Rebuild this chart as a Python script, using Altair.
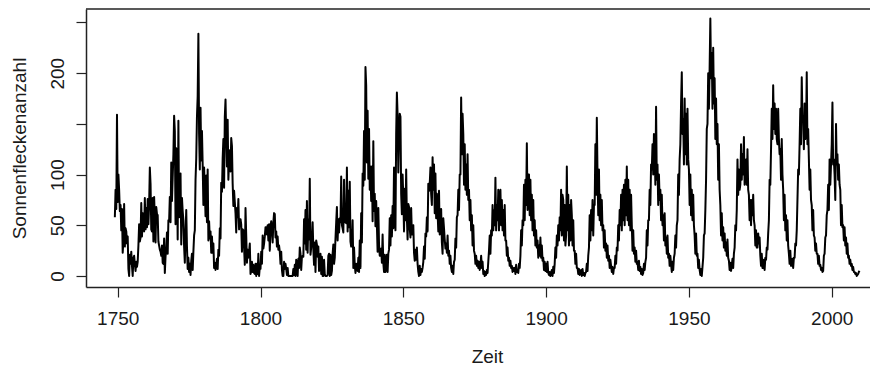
import altair as alt
import pandas as pd

start_year = 1749
s1749_1799 = [
    58, 85, 66, 159,   73, 100, 85, 64,   70, 45, 66, 23,   35, 71, 29, 47,   44, 32, 39, 7,
    0, 21, 12, 24,     10, 0, 18, 20,     12, 5, 14, 9,     14, 30, 51, 34,   38, 72, 39, 62,
    48, 44, 77, 46,    67, 48, 76, 51,    70, 107, 91, 46,  44, 77, 34, 78,   57, 33, 68, 61,
    60, 34, 30, 26,    24, 20, 30, 13,    12, 37, 3, 19,    27, 43, 22, 55,   54, 78, 53, 112,
    74, 97, 120, 158,  143, 51, 126, 102, 36, 153, 58, 96,  101, 31, 77, 64,  55, 29, 13, 43,
    65, 29, 7, 18,     4, 12, 1, 15,      22, 6, 24, 40,    45, 95, 116, 157, 177, 239, 140, 105,
    166, 114, 143, 110, 70, 107, 86, 59,  99, 53, 105, 35,  54, 37, 44, 23,   39, 23, 32, 8,
    13, 6, 10, 17,     7, 26, 20, 47,     37, 92, 83, 116,  135, 87, 157, 174, 138, 108, 154, 95,
    114, 124, 103, 136, 128, 91, 69, 84,  73, 62, 43, 67,   58, 76, 46, 56,   56, 51, 24, 46,
    45, 28, 11, 67,    40, 13, 26, 18,    24, 32, 2, 5,     14, 4, 11, 3,     2, 12, 0, 12,
    2, 22, 0, 9,
]
s1800_1849 = [
    7, 24, 12, 40,     27, 32, 39, 48,    48, 41, 50, 35,   51, 25, 48, 54,   45, 33, 53, 62,
    61, 38, 44, 29,    39, 26, 30, 24,    12, 24, 6, 0,     0, 14, 7, 12,     7, 1, 8, 0,
    0, 0, 0, 0,        0, 0, 7, 1,        11, 0, 16, 10,    0, 17, 8, 28,     22, 6, 19, 20,
    19, 56, 32, 65,    26, 74, 23, 56,    36, 96, 21, 28,   35, 53, 26, 11,   33, 4, 35, 31,
    19, 29, 5, 10,     22, 2, 19, 0,      0, 16, 2, 0,      0, 0, 1, 20,      22, 0, 21, 1,
    5, 22, 31, 12,     18, 37, 53, 68,    35, 56, 43, 57,   53, 98, 50, 47,   43, 95, 53, 68,
    52, 107, 44, 84,   48, 93, 34, 29,    31, 55, 8, 28,    11, 3, 12, 6,     5, 18, 4, 35,
    8, 62, 33, 101,    89, 143, 95, 206,  188, 112, 163, 96, 145, 85, 108, 74, 108, 54, 133, 64,
    81, 49, 74, 50,    24, 67, 31, 20,    20, 27, 13, 41,   13, 4, 21, 4,     9, 21, 4, 22,
    26, 57, 30, 60,    39, 69, 47, 107,   63, 45, 140, 181, 159, 102, 139, 160, 157, 81, 61, 100,
]
s1850_1899 = [
    78, 44, 86, 55,    105, 57, 36, 71,   68, 47, 38, 67,   41, 48, 50, 23,   15, 26, 16, 28,
    12, 4, 0, 10,      1, 7, 4, 8,        14, 29, 17, 42,   39, 58, 44, 91,   84, 91, 107, 81,
    70, 117, 85, 110,  62, 101, 57, 81,   63, 44, 84, 41,   48, 66, 33, 22,   57, 47, 36, 27,
    32, 23, 40, 20,    25, 12, 20, 8,     4, 10, 2, 14,     16, 37, 28, 58,   60, 85, 65, 100,
    100, 176, 120, 160, 140, 90, 130, 85, 110, 80, 120, 75, 85, 55, 75, 45,   60, 30, 50, 25,
    22, 12, 20, 10,    15, 8, 14, 6,      10, 20, 8, 14,    2, 5, 0, 4,       1, 6, 3, 14,
    25, 40, 22, 45,    40, 70, 45, 65,    50, 97, 45, 70,   55, 85, 45, 75,   85, 50, 75, 45,
    65, 40, 70, 35,    35, 20, 28, 15,    18, 10, 15, 8,    10, 4, 8, 5,      8, 2, 11, 4,
    5, 3, 12, 8,       20, 45, 30, 55,    50, 90, 55, 95,   70, 131, 65, 100, 100, 60, 95, 55,
    80, 45, 75, 40,    55, 30, 45, 28,    35, 18, 30, 20,   38, 18, 30, 15,   18, 6, 14, 5,
]
s1900_1949 = [
    12, 4, 14, 3,      1, 4, 0, 3,        6, 0, 9, 3,       12, 28, 18, 40,   30, 50, 35, 58,
    45, 85, 40, 80,    75, 35, 70, 30,    40, 108, 45, 80,  30, 70, 35, 75,   60, 30, 55, 25,
    25, 12, 22, 8,     8, 2, 7, 1,        2, 6, 0, 7,       1, 3, 0, 3,       4, 12, 5, 20,
    28, 60, 35, 65,    45, 75, 40, 70,    70, 130, 80, 156, 100, 60, 105, 55, 80, 50, 75, 45,
    50, 28, 45, 25,    32, 18, 30, 15,    20, 8, 16, 10,    4, 9, 2, 8,       8, 20, 12, 28,
    25, 50, 35, 65,    50, 80, 45, 85,    55, 90, 50, 95,   60, 108, 55, 95,  50, 85, 45, 80,
    50, 25, 45, 22,    28, 14, 25, 12,    14, 6, 15, 5,     9, 2, 7, 1,       3, 12, 6, 14,
    18, 45, 30, 55,    55, 85, 70, 110,   105, 130, 100, 140, 130, 90, 167, 95, 110, 70, 100, 75,
    85, 55, 80, 50,    60, 35, 62, 30,    38, 22, 40, 18,   22, 10, 20, 12,   4, 14, 6, 18,
    22, 40, 28, 50,    55, 100, 80, 115,  130, 170, 201, 140, 155, 110, 175, 120, 160, 110, 165, 115,
]
s1950_2009 = [
    105, 70, 100, 60,  85, 55, 80, 50,    40, 22, 42, 20,   22, 8, 16, 6,     1, 7, 0, 9,
    18, 40, 42, 65,    95, 145, 150, 200, 165, 205, 254, 195, 220, 165, 225, 170, 195, 135, 175, 130,
    150, 95, 130, 85,  70, 40, 62, 35,    48, 28, 42, 25,   33, 20, 36, 18,   15, 6, 13, 5,
    10, 17, 8, 22,     28, 50, 45, 65,    115, 80, 105, 85, 90, 130, 95, 120, 100, 137, 90, 110,
    115, 90, 125, 85,  80, 55, 75, 50,    75, 60, 80, 55,   50, 30, 45, 28,   28, 42, 32, 38,
    20, 10, 22, 8,     8, 16, 6, 18,      16, 28, 26, 42,   55, 95, 90, 125,  165, 135, 188, 145,
    170, 140, 165, 135, 130, 165, 135, 120, 125, 95, 135, 100, 85, 55, 80, 45, 60, 35, 55, 30,
    22, 12, 25, 10,    10, 17, 8, 18,     18, 32, 30, 45,   75, 105, 100, 130, 165, 130, 196, 155,
    155, 125, 170, 135, 140, 201, 130, 145, 115, 85, 105, 75, 70, 45, 65, 40,  38, 25, 32, 22,
    22, 12, 20, 10,    11, 6, 8, 4,       5, 20, 22, 38,    40, 60, 65, 90,   65, 115, 90, 110,
    130, 171, 110, 115, 100, 75, 150, 110, 120, 95, 110, 90, 85, 50, 70, 48,  50, 35, 48, 30,
    38, 22, 32, 18,    20, 12, 16, 10,    12, 6, 9, 4,      4, 2, 3, 0,       1, 2, 4, 5,
]
values = s1749_1799 + s1800_1849 + s1850_1899 + s1900_1949 + s1950_2009
times = [start_year + i / 4 for i in range(len(values))]
df = pd.DataFrame({"Zeit": times, "Sonnenflecken": values})

x_ticks = [1750, 1800, 1850, 1900, 1950, 2000]
y_ticks = [0, 50, 100, 150, 200, 250]

FONT = "Liberation Sans"
TXT = "#1a1a1a"

line = alt.Chart(df).mark_line(
    color="black", strokeWidth=2.0, strokeJoin="round", clip=True
).encode(
    x=alt.X(
        "Zeit:Q",
        scale=alt.Scale(domain=[1738.9, 2013.4], nice=False, zero=False),
        axis=alt.Axis(
            values=x_ticks, format="d", title="Zeit", grid=False,
            tickSize=10, tickColor="#222", tickWidth=1.2,
            domainColor="#222", domainWidth=1.5,
            labelFont=FONT, labelFontSize=19, labelColor=TXT,
            labelBaseline="alphabetic", labelPadding=27, labelFlush=False,
            labelOverlap=False,
            titleFont=FONT, titleFontSize=19, titleFontWeight="normal", titleColor=TXT,
            titleX=401, titleY=75, titleAlign="center", titleBaseline="alphabetic",
        ),
    ),
    y=alt.Y(
        "Sonnenflecken:Q",
        scale=alt.Scale(domain=[-10.85, 263.3], nice=False, zero=False),
        axis=alt.Axis(
            values=y_ticks, grid=False, title="Sonnenfleckenanzahl",
            labelExpr="(datum.value == 150 || datum.value == 250) ? '' : datum.label",
            tickSize=10, tickColor="#222", tickWidth=1.2,
            domainColor="#222", domainWidth=1.5,
            labelFont=FONT, labelFontSize=19, labelColor=TXT,
            labelAngle=270, labelAlign="center", labelBaseline="alphabetic",
            labelPadding=13, labelOverlap=False, labelFlush=False,
            titleFont=FONT, titleFontSize=19, titleFontWeight="normal", titleColor=TXT,
            titleAngle=270, titleX=-61, titleY=139, titleAlign="center",
            titleBaseline="alphabetic",
        ),
    ),
)

top_rule = alt.Chart(alt.Data(values=[{"a": 1}])).mark_rule(
    color="#222", strokeWidth=1.5
).encode(x=alt.value(0), x2=alt.value(784), y=alt.value(0))

chart = alt.layer(line, top_rule).properties(
    width=784,
    height=278,
    padding={"left": 78, "top": 1, "right": 0, "bottom": 78},
    autosize=alt.AutoSizeParams(type="none"),
).configure_view(strokeWidth=0)

chart.save("out.html", embed_options={"renderer": "svg", "actions": False})
